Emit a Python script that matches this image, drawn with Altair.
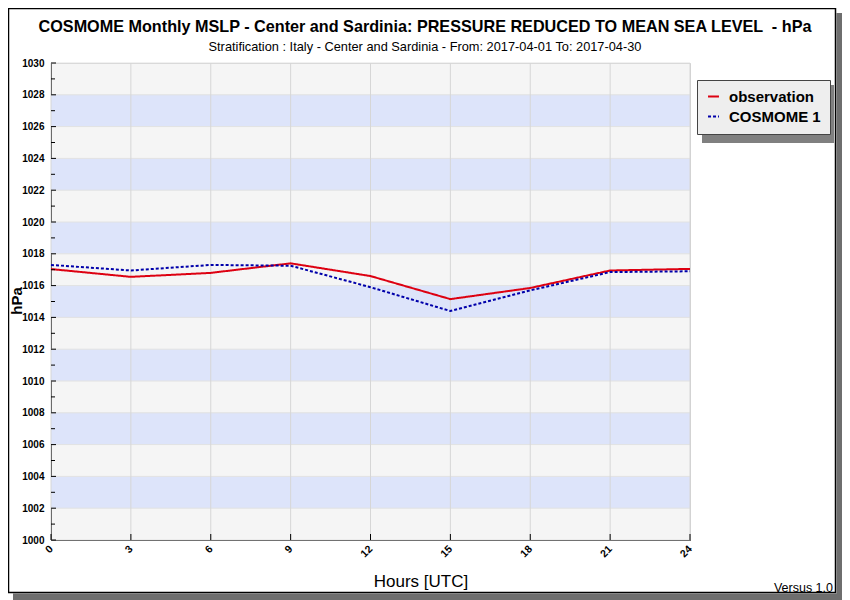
import altair as alt
import pandas as pd

hours = [0, 3, 6, 9, 12, 15, 18, 21, 24]
observation = [1017.04, 1016.55, 1016.8, 1017.4, 1016.6, 1015.15, 1015.85, 1016.95, 1017.05]
cosmome = [1017.3, 1016.95, 1017.3, 1017.25, 1015.9, 1014.4, 1015.7, 1016.85, 1016.9]
series_names = ["observation", "COSMOME 1"]
blue_band_lo = [1002, 1006, 1010, 1014, 1018, 1022, 1026]
y_major = list(range(1000, 1031, 2))
y_minor = list(range(1001, 1030, 2))

FONT = "Liberation Sans"
W, H = 639, 477

df = pd.DataFrame({
    "hour": hours * 2,
    "value": observation + cosmome,
    "series": [series_names[0]] * len(hours) + [series_names[1]] * len(hours),
})
bands = pd.DataFrame({"lo": blue_band_lo, "hi": [v + 2 for v in blue_band_lo]})

xs = alt.Scale(domain=[0, 24], nice=False, zero=False)
ys = alt.Scale(domain=[1000, 1030], nice=False, zero=False)

x_axis = alt.Axis(values=hours, title=None, labelAngle=-45, labelAlign="right",
                  labelBaseline="middle", labelPadding=7, tickSize=0, format="d",
                  labelFont=FONT, labelFontWeight="bold", labelFontSize=10.5,
                  labelColor="black", domainColor="black", grid=False,
                  labelFlush=False, labelOverlap=False)
y_axis = alt.Axis(values=y_major, title=None, tickSize=0, labelPadding=7, format="d",
                  labelFont=FONT, labelFontWeight="bold", labelFontSize=10,
                  labelColor="black", domainColor="black", grid=False,
                  labelOverlap=False)

one = alt.Data(values=[{"a": 1}])

band_layer = alt.Chart(bands).mark_rect(color="#dde4fa").encode(
    y=alt.Y("lo:Q", scale=ys, axis=y_axis), y2="hi:Q",
    x=alt.value(0), x2=alt.value(W),
)

hgrid = alt.Chart(pd.DataFrame({"v": y_major})).mark_rule(color="#e2e2e2", strokeWidth=1).encode(
    y=alt.Y("v:Q", scale=ys, axis=y_axis), x=alt.value(0), x2=alt.value(W)
)
vgrid = alt.Chart(pd.DataFrame({"h": hours})).mark_rule(color="#d6d6d6", strokeWidth=1).encode(
    x=alt.X("h:Q", scale=xs, axis=x_axis), y=alt.value(0), y2=alt.value(H)
)

lines = alt.Chart(df).mark_line(strokeWidth=2).encode(
    x=alt.X("hour:Q", scale=xs, axis=x_axis),
    y=alt.Y("value:Q", scale=ys, axis=y_axis),
    color=alt.Color("series:N", scale=alt.Scale(domain=series_names, range=["#dd0011", "#0000aa"]),
                    legend=alt.Legend(title=None, orient="none", legendX=646, legendY=17,
                                      fillColor="#eeeeee", strokeColor="#444444", padding=9,
                                      labelFont=FONT, labelFontWeight="bold", labelFontSize=15,
                                      labelColor="black", symbolType="stroke", symbolSize=120,
                                      symbolStrokeWidth=2, rowPadding=4, labelOffset=8)),
    strokeDash=alt.StrokeDash("series:N", scale=alt.Scale(domain=series_names, range=[[1, 0], [3, 2]]),
                              legend=None),
    order=alt.Order("hour:Q"),
)

yticks_major = alt.Chart(pd.DataFrame({"v": y_major})).mark_rule(color="black").encode(
    y=alt.Y("v:Q", scale=ys, axis=y_axis), x=alt.value(0), x2=alt.value(5)
)
yticks_minor = alt.Chart(pd.DataFrame({"v": y_minor})).mark_rule(color="black").encode(
    y=alt.Y("v:Q", scale=ys, axis=y_axis), x=alt.value(0), x2=alt.value(4)
)
xticks = alt.Chart(pd.DataFrame({"h": hours})).mark_rule(color="black").encode(
    x=alt.X("h:Q", scale=xs, axis=x_axis), y=alt.value(H), y2=alt.value(H - 6)
)


def label(txt, x, y, size, weight="normal", angle=0, align="center", baseline="middle"):
    return alt.Chart(one).mark_text(text=txt, font=FONT, fontSize=size, fontWeight=weight,
                                    angle=angle, align=align, baseline=baseline,
                                    color="black").encode(x=alt.value(x), y=alt.value(y))


texts = [
    label("COSMOME Monthly MSLP - Center and Sardinia: PRESSURE REDUCED TO MEAN SEA LEVEL \u00a0- hPa",
          374, -36, 16.2, "bold"),
    label("Stratification : Italy - Center and Sardinia - From: 2017-04-01 To: 2017-04-30",
          374, -16, 12.8),
    label("hPa", -29, 238, 15, "bold", angle=270, baseline="alphabetic"),
    label("Hours [UTC]", 370, 519, 17),
    label("Versus 1.0", 782, 525, 12.5, align="right"),
]

frame = alt.Chart(one).mark_rect(fill="transparent", stroke="black", strokeWidth=1.5).encode(
    x=alt.value(-42.5), x2=alt.value(784.5), y=alt.value(-54.5), y2=alt.value(529.5)
)
shadow_r = alt.Chart(one).mark_rect(color="#6e6e6e").encode(
    x=alt.value(785.5), x2=alt.value(791), y=alt.value(-50), y2=alt.value(537)
)
shadow_b = alt.Chart(one).mark_rect(color="#6e6e6e").encode(
    x=alt.value(-38), x2=alt.value(791), y=alt.value(530.5), y2=alt.value(537)
)
leg_shadow = alt.Chart(one).mark_rect(color="#808080").encode(
    x=alt.value(651), x2=alt.value(783), y=alt.value(22), y2=alt.value(80)
)

chart = alt.layer(
    shadow_r, shadow_b, frame, band_layer, hgrid, vgrid, leg_shadow, lines,
    yticks_major, yticks_minor, xticks, *texts
).properties(
    width=W, height=H,
    autosize=alt.AutoSizeParams(type="none"),
    padding={"left": 43, "top": 55, "right": 152, "bottom": 60},
    background="white",
).configure_view(fill="#f5f5f5", stroke="#d0d0d0")

chart.save("out.html", embed_options={"renderer": "svg", "actions": False})
